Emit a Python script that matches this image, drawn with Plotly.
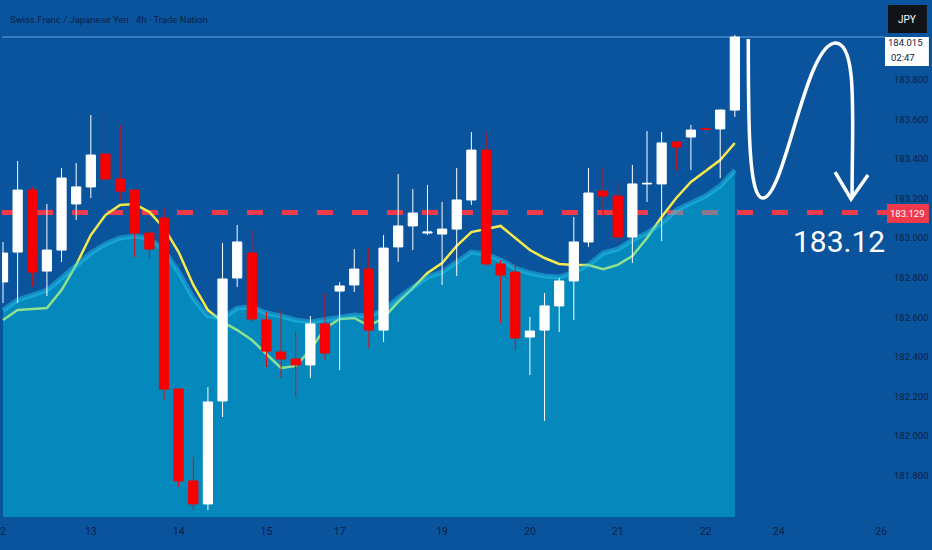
import plotly.graph_objects as go

# --- datos (velas 4h CHF/JPY) ---
idx = list(range(51))
opens = [182.778, 182.929, 183.242, 182.833, 182.939, 183.172, 183.258, 183.424, 183.298, 183.242,
         183.025, 183.101, 182.237, 181.773, 181.657, 182.177, 182.798, 182.924, 182.586, 182.424,
         182.389, 182.359, 182.566, 182.732, 182.763, 182.843, 182.535, 182.955, 183.061, 183.025,
         183.020, 183.045, 183.192, 183.444, 182.869, 182.828, 182.500, 182.535, 182.657, 182.783,
         182.980, 183.237, 183.212, 183.005, 183.273, 183.273, 183.485, 183.510, 183.552, 183.551,
         183.646]
highs = [182.980, 183.389, 183.258, 183.172, 183.354, 183.379, 183.621, 183.631, 183.571, 183.245,
         183.106, 183.152, 182.240, 181.894, 182.247, 182.975, 183.066, 183.040, 182.626, 182.636,
         182.525, 182.606, 182.722, 182.778, 182.944, 182.949, 183.015, 183.323, 183.247, 183.268,
         183.182, 183.354, 183.535, 183.535, 182.889, 182.874, 182.601, 182.722, 182.798, 183.106,
         183.354, 183.354, 183.283, 183.369, 183.540, 183.535, 183.487, 183.571, 183.616, 183.650,
         184.025]
lows = [182.672, 182.672, 182.753, 182.707, 182.879, 183.091, 183.202, 183.192, 183.192, 182.904,
        182.899, 182.182, 181.742, 181.626, 181.626, 182.096, 182.753, 182.576, 182.348, 182.293,
        182.197, 182.293, 182.384, 182.333, 182.727, 182.444, 182.475, 182.879, 182.939, 183.015,
        182.763, 182.808, 183.167, 182.859, 182.571, 182.434, 182.308, 182.076, 182.525, 182.586,
        182.955, 183.106, 182.975, 182.874, 183.182, 182.985, 183.343, 183.343, 183.343, 183.303,
        183.611]
closes = [182.924, 183.242, 182.828, 182.939, 183.303, 183.258, 183.419, 183.298, 183.237, 183.025,
          182.944, 182.237, 181.773, 181.657, 182.172, 182.793, 182.980, 182.591, 182.429, 182.389,
          182.359, 182.566, 182.419, 182.758, 182.843, 182.535, 182.949, 183.061, 183.126, 183.030,
          183.045, 183.192, 183.444, 182.869, 182.813, 182.495, 182.530, 182.657, 182.783, 182.980,
          183.227, 183.212, 183.005, 183.273, 183.276, 183.480, 183.460, 183.545, 183.548, 183.646,
          184.015]

# media rápida (línea amarilla) y media lenta (área)
ma_fast = [182.586, 182.636, 182.641, 182.646, 182.737, 182.864, 183.015, 183.116, 183.167, 183.172,
           183.131, 183.051, 182.929, 182.763, 182.636, 182.576, 182.535, 182.485, 182.414, 182.343,
           182.354, 182.434, 182.545, 182.591, 182.596, 182.556, 182.596, 182.677, 182.747, 182.823,
           182.874, 182.960, 183.030, 183.045, 183.061, 183.000, 182.939, 182.899, 182.869, 182.864,
           182.864, 182.843, 182.864, 182.909, 183.000, 183.106, 183.202, 183.283, 183.338, 183.394,
           183.480]
ma_slow = [182.636, 182.687, 182.712, 182.737, 182.798, 182.864, 182.924, 182.970, 183.000, 183.010,
           183.000, 182.939, 182.828, 182.697, 182.606, 182.596, 182.646, 182.652, 182.621, 182.606,
           182.586, 182.576, 182.586, 182.601, 182.611, 182.606, 182.636, 182.697, 182.747, 182.803,
           182.828, 182.879, 182.929, 182.919, 182.889, 182.848, 182.823, 182.808, 182.803, 182.828,
           182.864, 182.924, 182.944, 182.990, 183.025, 183.076, 183.141, 183.177, 183.212, 183.263,
           183.343]

day_ticks = [0, 6, 12, 18, 23, 30, 36, 42, 48, 53, 60]
day_labels = ["2", "13", "14", "15", "17", "19", "20", "21", "22", "24", "26"]
price_ticks = [181.8, 182.0, 182.2, 182.4, 182.6, 182.8, 183.0, 183.2, 183.4, 183.6, 183.8]

LEVEL = 183.129
LAST = 184.015
Y_RANGE = [181.591, 184.202]
X_RANGE = [-0.068, 60.26]

BG = "#0a549d"
TXT = "#0d2147"
RED = "#f80000"
FONT = "Roboto, Liberation Sans Narrow, sans-serif"

# tamaño del área de trazado en px (para las decoraciones)
PW, PH = 885, 517
def px(x):
    return x / PW
def py(y):
    return 1 - y / PH

fig = go.Figure()

# línea amarilla (debajo del área, que la tiñe de verde)
fig.add_trace(go.Scatter(x=idx, y=ma_fast, mode="lines",
                         line=dict(color="#f6ea4c", width=2.5), hoverinfo="skip"))
# área de la media lenta
fig.add_trace(go.Scatter(x=idx, y=ma_slow, mode="lines", fill="tozeroy",
                         fillcolor="rgba(0,212,230,0.42)",
                         line=dict(color="rgba(40,205,240,0.45)", width=5),
                         hoverinfo="skip"))
# velas encima (eje y2 superpuesto)
fig.add_trace(go.Candlestick(x=idx, open=opens, high=highs, low=lows, close=closes,
                             yaxis="y2",
                             increasing=dict(line=dict(color="#ffffff", width=1), fillcolor="#ffffff"),
                             decreasing=dict(line=dict(color=RED, width=1), fillcolor=RED),
                             whiskerwidth=0, hoverinfo="skip"))

shapes = [
    # nivel discontinuo
    dict(type="line", xref="paper", yref="y", x0=0, x1=px(888), y0=LEVEL, y1=LEVEL,
         line=dict(color="#ee3a4a", width=5, dash="16px,19px"), layer="below"),
    # línea del último precio
    dict(type="line", xref="paper", yref="y", x0=0, x1=1, y0=LAST, y1=LAST,
         line=dict(color="#5fa6e0", width=1), layer="below"),
    # flecha dibujada a mano
    dict(type="path", xref="x", yref="y",
         path="M 50.92,184.005 C 50.92,183.596 50.92,183.192 51.94,183.202 "
              "C 53.44,183.217 54.81,183.975 56.85,183.985 "
              "C 58.42,183.990 58.01,183.596 58.01,183.207",
         line=dict(color="white", width=3.5)),
    dict(type="path", xref="x", yref="y",
         path="M 56.85,183.333 L 57.94,183.197 L 59.10,183.318",
         line=dict(color="white", width=3.5)),
    # etiqueta roja del nivel
    dict(type="rect", xref="paper", yref="paper", x0=px(887), x1=px(929),
         y0=py(223), y1=py(204), fillcolor="#f0394a", line=dict(width=0)),
    # caja blanca del precio actual
    dict(type="rect", xref="paper", yref="paper", x0=px(885), x1=px(929),
         y0=py(66), y1=py(37), fillcolor="white", line=dict(width=0)),
    # caja JPY
    dict(type="rect", xref="paper", yref="paper", x0=px(888), x1=px(927),
         y0=py(33), y1=py(5), fillcolor="#111317", line=dict(width=0)),
]

annotations = [
    dict(text="Swiss Franc / Japanese Yen · 4h · Trade Nation", xref="paper", yref="paper",
         x=px(6), y=py(19), xanchor="left", yanchor="middle", showarrow=False,
         font=dict(family=FONT, size=9.5, color=TXT)),
    dict(text="183.12", xref="paper", yref="paper", x=px(839), y=py(241),
         xanchor="center", yanchor="middle", showarrow=False,
         font=dict(family=FONT, size=30, color="white")),
    dict(text="183.129", xref="paper", yref="paper", x=px(908), y=py(213.5),
         xanchor="center", yanchor="middle", showarrow=False,
         font=dict(family=FONT, size=9.5, color="white")),
    dict(text="184.015", xref="paper", yref="paper", x=px(906), y=py(43),
         xanchor="center", yanchor="middle", showarrow=False,
         font=dict(family=FONT, size=9.5, color=TXT)),
    dict(text="02:47", xref="paper", yref="paper", x=px(903), y=py(57),
         xanchor="center", yanchor="middle", showarrow=False,
         font=dict(family=FONT, size=9.5, color=TXT)),
    dict(text="JPY", xref="paper", yref="paper", x=px(907), y=py(19),
         xanchor="center", yanchor="middle", showarrow=False,
         font=dict(family=FONT, size=10, color="white")),
]

fig.update_layout(
    width=932, height=550,
    margin=dict(l=0, r=47, t=0, b=33),
    paper_bgcolor=BG, plot_bgcolor=BG,
    showlegend=False,
    boxgap=0.1,
    shapes=shapes,
    annotations=annotations,
    xaxis=dict(range=X_RANGE, showgrid=False, zeroline=False, showline=False,
               tickvals=day_ticks, ticktext=day_labels, ticks="",
               ticklabelstandoff=6, ticklabeloverflow="allow",
               tickfont=dict(family=FONT, size=10.5, color=TXT),
               rangeslider=dict(visible=False), fixedrange=True),
    yaxis=dict(range=Y_RANGE, side="right", showgrid=False, zeroline=False, showline=False,
               tickvals=price_ticks, tickformat=".3f", ticks="",
               ticklabelstandoff=8,
               tickfont=dict(family=FONT, size=9.5, color=TXT)),
    yaxis2=dict(range=Y_RANGE, overlaying="y", side="right", visible=False),
)

# la página por defecto deja 8px de margen en el body
fig.write_html("out.html", config={"displayModeBar": False},
               post_script="document.body.style.margin='0';document.body.style.overflow='hidden';")
